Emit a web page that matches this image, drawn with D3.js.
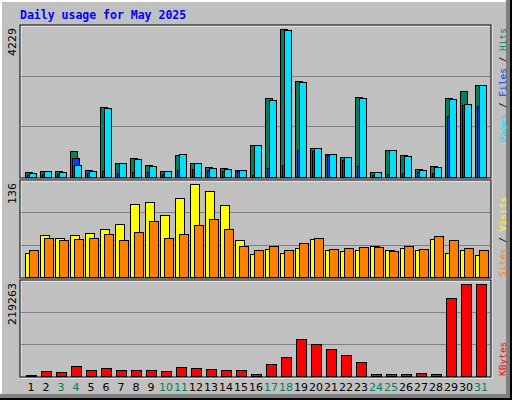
<!DOCTYPE html>
<html>
<head>
<meta charset="utf-8">
<script src="https://cdn.jsdelivr.net/npm/d3@7"></script>
<style>
body { margin: 0; background: #fff; }
svg { display: block; }
</style>
</head>
<body>
<svg id="chart" width="512" height="400"></svg>
<script>
// days of month and weekend flags
var days = d3.range(1, 32);
var weekend = [3, 4, 10, 11, 17, 18, 24, 25, 31];

// values
var hits   = [143, 172, 172, 743, 200, 2000, 400, 543, 343, 172, 629, 400, 286, 257, 200, 915, 2257, 4229, 2743, 829, 657, 572, 2286, 143, 772, 629, 229, 314, 2257, 2457, 2629];
var files  = [57, 86, 86, 543, 114, 172, 114, 143, 143, 86, 200, 229, 200, 172, 172, 57, 257, 343, 772, 743, 629, 486, 314, 57, 86, 114, 143, 114, 1743, 2057, 2029];
var pages  = [114, 172, 143, 343, 172, 1972, 400, 514, 314, 172, 657, 400, 257, 229, 200, 915, 2200, 4200, 2715, 829, 657, 572, 2257, 143, 772, 600, 200, 286, 2229, 2086, 2629];
var visits = [35, 61, 57, 61, 64, 70, 77, 107, 110, 91, 115, 136, 126, 105, 54, 34, 41, 35, 42, 56, 39, 38, 39, 45, 39, 42, 39, 56, 35, 39, 32];
var sites  = [39, 57, 54, 56, 57, 63, 54, 66, 82, 57, 63, 76, 85, 70, 45, 39, 45, 39, 50, 57, 41, 42, 44, 44, 38, 45, 41, 60, 54, 42, 39];
var kbytes = [1200, 11900, 9500, 23800, 14300, 19100, 14300, 14300, 14300, 11900, 21400, 19100, 16700, 14300, 14300, 4800, 28600, 45300, 88200, 76300, 64300, 50000, 33400, 4800, 4800, 4800, 7100, 4800, 185900, 219263, 219263];
var maxTop = 4229, maxMid = 136, maxBot = 219263;

var svg = d3.select('#chart');

// frame with bevel
svg.append('rect').attr('x', 0).attr('y', 0).attr('width', 512).attr('height', 400).attr('fill', '#000');
svg.append('rect').attr('x', 0).attr('y', 0).attr('width', 510).attr('height', 398).attr('fill', '#808080');
svg.append('rect').attr('x', 0).attr('y', 0).attr('width', 506).attr('height', 394).attr('fill', '#fff');
svg.append('rect').attr('x', 2).attr('y', 2).attr('width', 504).attr('height', 392).attr('fill', '#c0c0c0');

svg.append('text').attr('x', 20).attr('y', 19)
  .attr('font-family', 'DejaVu Sans Mono').attr('font-weight', 'bold').attr('font-size', 11.5)
  .attr('fill', '#0000ff').text('Daily usage for May 2025');

var x = d3.scaleLinear().domain([1, 31]).range([25, 475]);

// panel boxes: top, bottom
var panels = [
  { top: 25, base: 177, maxY: 29, max: maxTop, label: '4229' },
  { top: 180, base: 277, maxY: 184, max: maxMid, label: '136' },
  { top: 280, base: 376, maxY: 284, max: maxBot, label: '219263' }
];

panels.forEach(function(p) {
  var g = svg.append('g');
  g.append('rect').attr('x', 21).attr('y', p.top + 1).attr('width', 471).attr('height', p.base - p.top + 1)
    .attr('fill', 'none').attr('stroke', '#fff').attr('stroke-width', 1);
  g.append('rect').attr('x', 20).attr('y', p.top).attr('width', 471).attr('height', p.base - p.top + 1)
    .attr('fill', 'none').attr('stroke', '#000').attr('stroke-width', 1);
  var step = (p.base - p.top) / 3;
  [1, 2].forEach(function(k) {
    g.append('line').attr('x1', 21).attr('x2', 490)
      .attr('y1', Math.round(p.top + step * k) + 0.5).attr('y2', Math.round(p.top + step * k) + 0.5)
      .attr('stroke', '#808080');
  });
  g.append('text').attr('transform', 'translate(16,' + (p.top + 3) + ') rotate(-90)')
    .attr('text-anchor', 'end').attr('font-family', 'DejaVu Sans').attr('font-size', 11)
    .attr('fill', '#000').text(p.label);
  p.y = d3.scaleLinear().domain([0, p.max]).range([p.base, p.maxY]);
});

function bars(data, p, dx, w, color) {
  svg.append('g').selectAll('rect').data(data).enter().append('rect')
    .attr('x', function(d, i) { return x(days[i]) + dx + 0.5; })
    .attr('y', function(d) { return Math.round(p.y(d)) + 0.5; })
    .attr('width', w)
    .attr('height', function(d) { return Math.max(0, p.base - Math.round(p.y(d))); })
    .attr('fill', color).attr('stroke', '#000');
}

bars(hits, panels[0], 0, 7, '#00805c');
bars(files, panels[0], 2, 7, '#0040ff');
bars(pages, panels[0], 4, 7, '#00e0ff');
bars(visits, panels[1], 0, 9, '#ffff00');
bars(sites, panels[1], 4, 9, '#ff8000');
bars(kbytes, panels[2], 1, 10, '#ff0000');

// x labels
svg.append('g').selectAll('text').data(days).enter().append('text')
  .attr('x', function(d) { return x(d) + 6; }).attr('y', 391)
  .attr('text-anchor', 'middle').attr('font-family', 'DejaVu Sans').attr('font-size', 11)
  .attr('fill', function(d) { return weekend.indexOf(d) >= 0 ? '#00805c' : '#000'; })
  .text(function(d) { return d; });

// right side legends
function legend(parts, y0, anchor) {
  var t = svg.append('text').attr('transform', 'translate(506,' + y0 + ') rotate(-90)')
    .attr('text-anchor', anchor).attr('font-family', 'DejaVu Sans Mono').attr('font-size', 9.5);
  parts.forEach(function(p) { t.append('tspan').attr('fill', p[1]).text(p[0]); });
}
legend([['Pages', '#00e0ff'], [' / ', '#000'], ['Files', '#0040ff'], [' / ', '#000'], ['Hits', '#00805c']], 28, 'end');
legend([['Sites', '#ff8000'], [' / ', '#000'], ['Visits', '#ffff00']], 277, 'start');
legend([['KBytes', '#ff0000']], 376, 'start');
</script>
</body>
</html>
